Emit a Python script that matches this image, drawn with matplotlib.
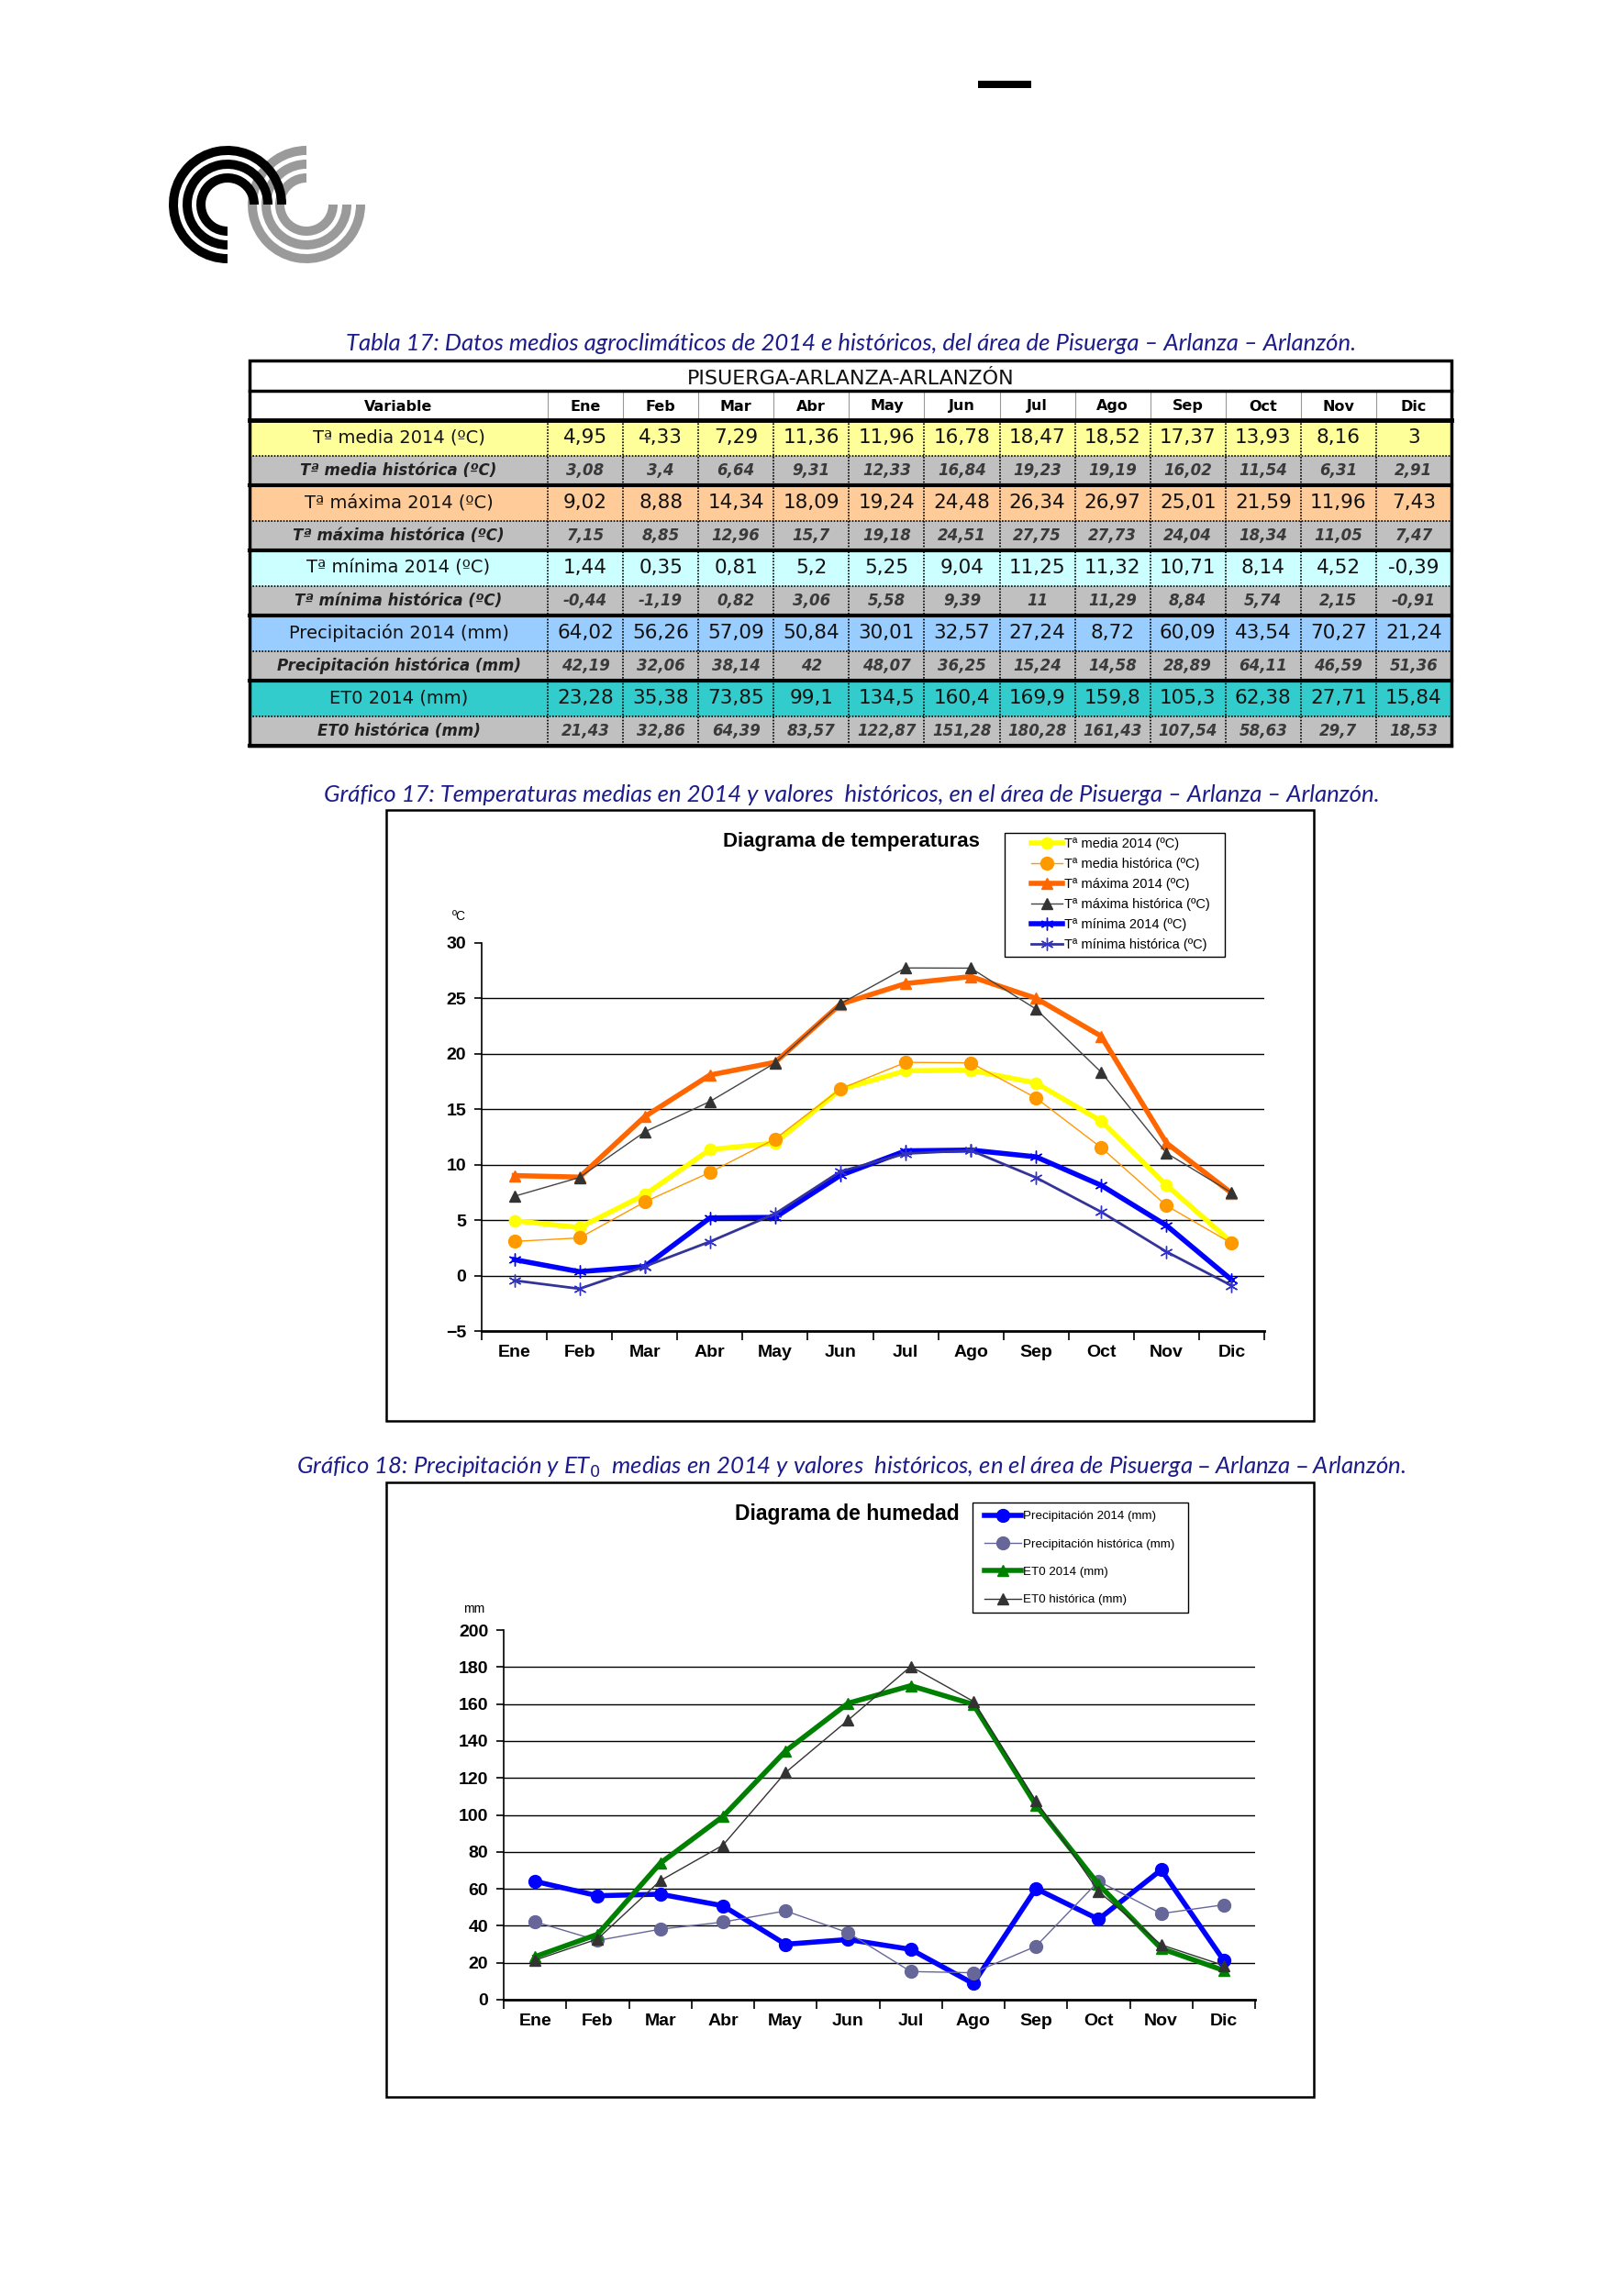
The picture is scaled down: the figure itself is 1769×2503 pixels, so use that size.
import numpy as np
import matplotlib
matplotlib.use('Agg')
import matplotlib.pyplot as plt
from matplotlib.patches import Rectangle, Wedge
from matplotlib.ticker import FixedLocator, NullFormatter

W, H = 1769, 2503

meses = ['Ene', 'Feb', 'Mar', 'Abr', 'May', 'Jun', 'Jul', 'Ago', 'Sep', 'Oct', 'Nov', 'Dic']

tmed_2014 = [4.95, 4.33, 7.29, 11.36, 11.96, 16.78, 18.47, 18.52, 17.37, 13.93, 8.16, 3]
tmed_hist = [3.08, 3.4, 6.64, 9.31, 12.33, 16.84, 19.23, 19.19, 16.02, 11.54, 6.31, 2.91]
tmax_2014 = [9.02, 8.88, 14.34, 18.09, 19.24, 24.48, 26.34, 26.97, 25.01, 21.59, 11.96, 7.43]
tmax_hist = [7.15, 8.85, 12.96, 15.7, 19.18, 24.51, 27.75, 27.73, 24.04, 18.34, 11.05, 7.47]
tmin_2014 = [1.44, 0.35, 0.81, 5.2, 5.25, 9.04, 11.25, 11.32, 10.71, 8.14, 4.52, -0.39]
tmin_hist = [-0.44, -1.19, 0.82, 3.06, 5.58, 9.39, 11, 11.29, 8.84, 5.74, 2.15, -0.91]
prec_2014 = [64.02, 56.26, 57.09, 50.84, 30.01, 32.57, 27.24, 8.72, 60.09, 43.54, 70.27, 21.24]
prec_hist = [42.19, 32.06, 38.14, 42, 48.07, 36.25, 15.24, 14.58, 28.89, 64.11, 46.59, 51.36]
et0_2014 = [23.28, 35.38, 73.85, 99.1, 134.5, 160.4, 169.9, 159.8, 105.3, 62.38, 27.71, 15.84]
et0_hist = [21.43, 32.86, 64.39, 83.57, 122.87, 151.28, 180.28, 161.43, 107.54, 58.63, 29.7, 18.53]

plt.rcParams['font.family'] = ['Liberation Sans', 'DejaVu Sans']
AZUL_TXT = '#1c1c8a'
CAPTION = dict(ha='center', va='center', color=AZUL_TXT, fontsize=18.5, style='italic',
               family=['Lato', 'DejaVu Sans'])

fig = plt.figure(figsize=(W / 100, H / 100), dpi=100)
page = fig.add_axes([0, 0, 1, 1])
page.set_xlim(0, W)
page.set_ylim(H, 0)
page.axis('off')


def caja(l, t, r, b):
    return [l / W, 1 - b / H, (r - l) / W, (b - t) / H]


def fmt(v):
    return f'{v:g}'.replace('.', ',')


# cabecera de pagina: guion y logo
page.add_patch(Rectangle((1066, 88), 58, 8, fc='black', ec='none'))
for r in [64, 49, 34]:
    page.add_patch(Wedge((334, 223), r, 0, 270, width=10, fc='#9a9a9a', ec='none'))
for r in [64, 49, 34]:
    page.add_patch(Wedge((248, 223), r, 90, 360, width=10, fc='black', ec='none'))

# tabla
page.text(928, 374, 'Tabla 17: Datos medios agroclimáticos de 2014 e históricos, del área de Pisuerga – Arlanza – Arlanzón.',
          **CAPTION)

x0, xv, x1 = 272, 597, 1582
col_w = (x1 - xv) / 12
page.text((x0 + x1) / 2, 413, 'PISUERGA-ARLANZA-ARLANZÓN', ha='center', va='center', fontsize=16,
          family='DejaVu Sans', color='#111111', zorder=5)
page.text((x0 + xv) / 2, 443, 'Variable', ha='center', va='center', fontsize=11.5, weight='bold', family='DejaVu Sans')
for i, m in enumerate(meses):
    page.text(xv + col_w * (i + 0.5), 443, m, ha='center', va='center', fontsize=11.5, weight='bold',
              family='DejaVu Sans')
    page.plot([xv + col_w * i] * 2, [427, 458], color='#999999', lw=0.8)

filas = [
    ('Tª media 2014 (ºC)', tmed_2014, '#FFFF99', False),
    ('Tª media histórica (ºC)', tmed_hist, '#C0C0C0', True),
    ('Tª máxima 2014 (ºC)', tmax_2014, '#FFCC99', False),
    ('Tª máxima histórica (ºC)', tmax_hist, '#C0C0C0', True),
    ('Tª mínima 2014 (ºC)', tmin_2014, '#CCFFFF', False),
    ('Tª mínima histórica (ºC)', tmin_hist, '#C0C0C0', True),
    ('Precipitación 2014 (mm)', prec_2014, '#99CCFF', False),
    ('Precipitación histórica (mm)', prec_hist, '#C0C0C0', True),
    ('ET0 2014 (mm)', et0_2014, '#33CCCC', False),
    ('ET0 histórica (mm)', et0_hist, '#C0C0C0', True),
]
y = 458
for label, vals, color, hist in filas:
    h = 32.5 if hist else 38.5
    page.add_patch(Rectangle((x0, y), x1 - x0, h, fc=color, ec='none', zorder=0))
    if hist:
        kw = dict(fontsize=12, weight='bold', style='italic', color='#222222')
        kv = dict(fontsize=12, weight='bold', style='italic', color='#3a3a3a')
    else:
        kw = dict(fontsize=14, color='#111111')
        kv = dict(fontsize=15.5, color='#111111')
    page.text((x0 + xv) / 2, y + h / 2, label, ha='center', va='center', family='DejaVu Sans', **kw)
    for i, v in enumerate(vals):
        page.text(xv + col_w * (i + 0.5), y + h / 2, fmt(v), ha='center', va='center', family='DejaVu Sans', **kv)
    if hist:
        page.plot([x0, x1], [y + h, y + h], color='black', lw=3)
    else:
        page.plot([x0, x1], [y + h, y + h], color='black', lw=1.2, ls=(0, (1, 1)))
    y += h
for i in range(12):
    page.plot([xv + col_w * i] * 2, [458, 813], color='black', lw=1.2, ls=(0, (1, 1)))
page.plot([x0, x1], [426, 426], color='black', lw=2.5)
page.plot([x0, x1], [458, 458], color='black', lw=3.5)
page.add_patch(Rectangle((x0, 393), x1 - x0, 813 - 393, fc='none', ec='black', lw=2.5))

# grafico 17
page.text(928, 867, 'Gráfico 17: Temperaturas medias en 2014 y valores  históricos, en el área de Pisuerga – Arlanza – Arlanzón.',
          **CAPTION)
page.add_patch(Rectangle((421, 883), 1011, 666, fc='none', ec='black', lw=1.8))
page.text(928, 918, 'Diagrama de temperaturas', ha='center', va='center', fontsize=16, weight='bold')
page.text(500, 999, 'ºC', ha='center', va='center', fontsize=10)
page.add_patch(Rectangle((1095, 908), 240, 135, fc='white', ec='black', lw=1))

x = np.arange(1, 13)
ast = (6, 2, 0)
ax1 = fig.add_axes(caja(525, 1028, 1378, 1451))
s1 = [
    ax1.plot(x, tmed_2014, color='#FFFF00', lw=4, marker='o', ms=9, label='Tª media 2014 (ºC)')[0],
    ax1.plot(x, tmed_hist, color='#FF9900', lw=1, marker='o', ms=10, label='Tª media histórica (ºC)')[0],
    ax1.plot(x, tmax_2014, color='#FF6600', lw=4, marker='^', ms=8, label='Tª máxima 2014 (ºC)')[0],
    ax1.plot(x, tmax_hist, color='#444444', mfc='#333333', mec='#333333', lw=1, marker='^', ms=8,
             label='Tª máxima histórica (ºC)')[0],
    ax1.plot(x, tmin_2014, color='#0000FF', lw=4, marker=ast, ms=10, mew=1, label='Tª mínima 2014 (ºC)')[0],
    ax1.plot(x, tmin_hist, color='#333399', mec='#3333CC', lw=2, marker=ast, ms=10, mew=1,
             label='Tª mínima histórica (ºC)')[0],
]
ax1.set_xlim(0.5, 12.5)
ax1.set_ylim(-5, 30)
ax1.set_yticks(range(-5, 31, 5))

# grafico 18
page.text(928, 1599, 'Gráfico 18: Precipitación y ET$_0$  medias en 2014 y valores  históricos, en el área de Pisuerga – Arlanza – Arlanzón.',
          **CAPTION)
page.add_patch(Rectangle((421, 1616), 1011, 670, fc='none', ec='black', lw=1.8))
page.text(923, 1651, 'Diagrama de humedad', ha='center', va='center', fontsize=16.5, weight='bold')
page.text(517, 1754, 'mm', ha='center', va='center', fontsize=10)
page.add_patch(Rectangle((1060, 1638), 235, 120, fc='white', ec='black', lw=1))

ax2 = fig.add_axes(caja(549, 1777, 1368, 2180))
s2 = [
    ax2.plot(x, prec_2014, color='#0000FF', lw=4, marker='o', ms=10, label='Precipitación 2014 (mm)')[0],
    ax2.plot(x, prec_hist, color='#666699', lw=1, marker='o', ms=10, label='Precipitación histórica (mm)')[0],
    ax2.plot(x, et0_2014, color='#008000', lw=4, marker='^', ms=8, label='ET0 2014 (mm)')[0],
    ax2.plot(x, et0_hist, color='#333333', lw=1, marker='^', ms=8, label='ET0 histórica (mm)')[0],
]
ax2.set_xlim(0.5, 12.5)
ax2.set_ylim(0, 200)
ax2.set_yticks(range(0, 201, 20))

for ax in (ax1, ax2):
    for sp in ('top', 'right'):
        ax.spines[sp].set_visible(False)
    ax.spines['left'].set_linewidth(1.2)
    ax.spines['bottom'].set_linewidth(2)
    ax.xaxis.set_major_locator(FixedLocator(np.arange(0.5, 13, 1)))
    ax.xaxis.set_major_formatter(NullFormatter())
    ax.xaxis.set_minor_locator(FixedLocator(x))
    ax.set_xticklabels(meses, minor=True, fontsize=14, weight='bold')
    ax.tick_params(axis='x', which='major', length=7, width=1.2)
    ax.tick_params(axis='x', which='minor', length=0, pad=11)
    ax.tick_params(axis='y', length=6, width=1.2, pad=6, labelsize=14)
    for t in ax.get_yticklabels():
        t.set_fontweight('bold')
    ax.yaxis.grid(True, color='black', lw=1)
    gl = ax.get_ygridlines()
    gl[0].set_visible(False)
    gl[-1].set_visible(False)
    ax.set_axisbelow(True)
    ax.patch.set_alpha(0)

leg_kw = dict(loc='upper left', frameon=False, numpoints=1, borderaxespad=0, borderpad=0, handletextpad=0.15)
fig.legend(handles=s1, bbox_to_anchor=(1124 / W, 1 - 913 / H), fontsize=10.5, labelspacing=0.55,
           handlelength=2.3, **leg_kw)
fig.legend(handles=s2, bbox_to_anchor=(1073 / W, 1 - 1647 / H), fontsize=9.6, labelspacing=1.35,
           handlelength=3, **leg_kw)

fig.savefig('out.png', dpi=100)
